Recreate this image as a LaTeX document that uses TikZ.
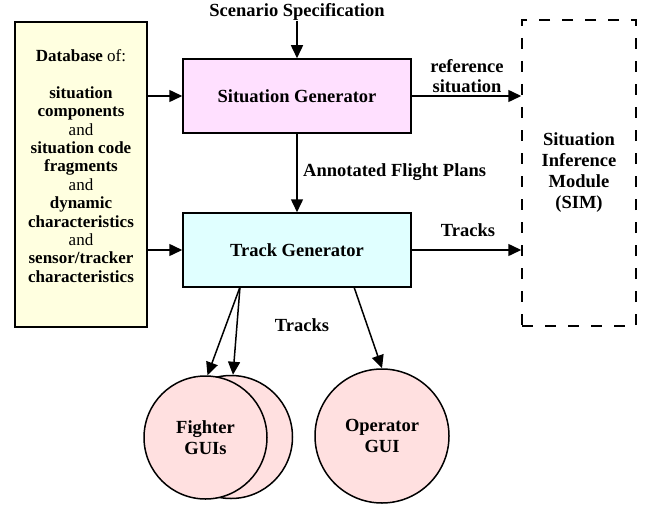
\documentclass[tikz,border=0pt]{standalone}
\usepackage{fontspec}
\setmainfont{Liberation Serif}
\usetikzlibrary{arrows.meta,calc}
\definecolor{dbfill}{HTML}{FFFFE0}
\definecolor{sgfill}{HTML}{FFE0FF}
\definecolor{tgfill}{HTML}{E0FFFF}
\definecolor{guifill}{HTML}{FFE0E0}
\tikzset{
  box/.style={draw=black, line width=1.5pt, rectangle, inner sep=0pt, align=center,
    font=\fontsize{18.5}{21}\selectfont\bfseries},
  gui/.style={draw=black, line width=1.5pt, circle, fill=guifill, inner sep=0pt, align=center,
    font=\fontsize{18.5}{21}\selectfont\bfseries},
  lbl/.style={inner sep=0pt, align=center, font=\fontsize{18.5}{20}\selectfont\bfseries},
  arr/.style={line width=1.5pt, -{Triangle[length=13pt,width=12pt]}},
}
\begin{document}
\begin{tikzpicture}[x=1pt,y=-1pt]
\useasboundingbox (0,0) rectangle (647,508);
% database
\node[box, fill=dbfill, minimum width=132pt, minimum height=305pt] (db) at (81,174.5) {};
\node[inner sep=0pt, align=center, font=\fontsize{17}{18.4}\selectfont] (dbtext) at (81,166)
 {\textbf{Database} of:\\[18.4pt]
  \textbf{situation}\\ \textbf{components}\\ and\\ \textbf{situation code}\\ \textbf{fragments}\\ and\\
  \textbf{dynamic}\\ \textbf{characteristics}\\ and\\ \textbf{sensor/tracker}\\ \textbf{characteristics}};
% generators
\node[box, fill=sgfill, minimum width=228pt, minimum height=74pt] (sg) at (297,96) {Situation Generator};
\node[box, fill=tgfill, minimum width=228pt, minimum height=74pt] (tg) at (297,250) {Track Generator};
% SIM
\node[box, draw=black, line width=1.5pt, dash pattern=on 11pt off 12pt, minimum width=114pt, minimum height=306pt] (sim) at (579,173)
 {Situation\\Inference\\Module\\(SIM)};
% GUIs
\node[gui, minimum size=123pt] (fig2) at (231,437) {};
\node[gui, minimum size=123pt] (fig1) at (205.5,437.5) {Fighter\\GUIs};
\node[gui, minimum size=134pt] (op) at (382,436) {Operator\\GUI};
% labels
\node[lbl] (sc) at (297,12) {Scenario Specification};
\node[lbl, anchor=west] (afp) at (303,172) {Annotated Flight Plans};
\node[lbl] (ref) at (467,76) {reference\\situation};
\node[lbl] (trk1) at (468,230) {Tracks};
\node[lbl] (trk2) at (302,325) {Tracks};
% connectors
\coordinate (tga) at (240,287);
\coordinate (tgb) at (354,287);
\draw[arr] (sc.south) -- (sg.north);
\draw[arr] (db.east |- sg.west) -- (sg.west);
\draw[arr] (db.east |- tg.west) -- (tg.west);
\draw[arr] (sg.east) -- (sim.west |- sg.east);
\draw[arr] (tg.east) -- (sim.west |- tg.east);
\draw[arr] (sg.south) -- (tg.north);
\draw[arr] (tga) -- ($(fig1.north)+(2,0)$);
\draw[arr] (tga) -- ($(fig2.north)+(2,0)$);
\draw[arr] (tgb) -- (op.north);
\end{tikzpicture}
\end{document}
